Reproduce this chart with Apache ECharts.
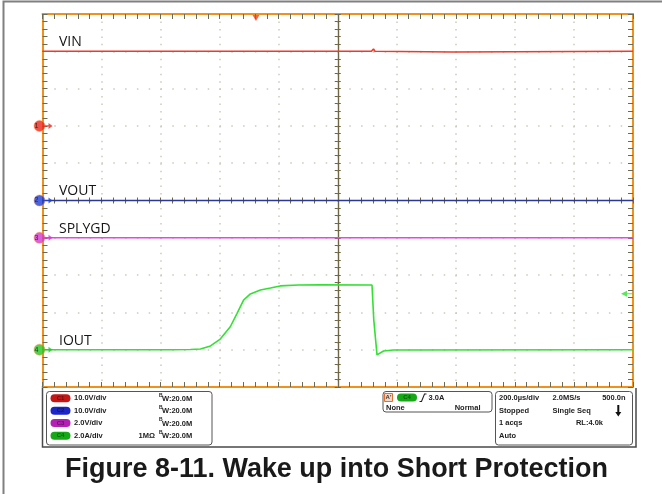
<!DOCTYPE html>
<html>
<head>
<meta charset="utf-8">
<script src="https://cdn.jsdelivr.net/npm/echarts@6/dist/echarts.min.js"></script>
<style>
  html, body { margin: 0; padding: 0; background: #fff; }
  #c { width: 662px; height: 494px; }
</style>
</head>
<body>
<div id="c"></div>
<script>
// Horizontal: µs from screen centre, 200 µs/div, 10 divisions
const timeMin = -1000, timeMax = 1000, timeDiv = 200;
// Vertical: divisions from screen centre
const divMin = -5, divMax = 5;

const channelNames = ['VIN', 'VOUT', 'SPLYGD', 'IOUT'];
const channelNumbers = ['1', '2', '3', '4'];
const channelColors = ['#ee3a2a', '#2b3a8f', '#e845e8', '#33e033'];
const markerColors = ['#e8261c', '#1d3fd6', '#cf3acf', '#22c822'];
const channelScales = [10, 10, 2, 2];     // V/div, V/div, V/div, A/div
const channelOffsets = [2, 0, -1, -4];    // ground level, in divisions

// CH1 VIN (V)
const vinTime  = [-1000, 114, 118, 121, 126, 131, 390, 394, 1000];
const vinVolts = [20.0, 20.0, 20.3, 20.6, 20.0, 19.8, 19.8, 20.0, 20.0];
// CH2 VOUT (V)
const voutTime  = [-1000, 1000];
const voutVolts = [0, 0];
// CH3 SPLYGD (V)
const splygdTime  = [-1000, 1000];
const splygdVolts = [0, 0];
// CH4 IOUT (A)
const ioutTime = [-1000, -567, -499, -465, -431, -398, -364, -341, -319, -296, -262, -228, -195, -134, -59, 116, 122, 133, 155, 188, 1000];
const ioutAmps = [0, 0, 0.01, 0.04, 0.2, 0.57, 1.23, 1.95, 2.66, 2.99, 3.2, 3.31, 3.42, 3.47, 3.48, 3.47, 1.6, -0.28, -0.07, -0.02, 0];

const triggerTime = -277;   // µs
const triggerLevel = 3.0;   // A, on CH4

// Readout panel
const scaleLabels = ['10.0V/div', '10.0V/div', '2.0V/div', '2.0A/div'];
const bwLabel = 'W:20.0M';
const termLabels = ['', '', '', '1MΩ'];
const badgeColors = ['#c51616', '#1c25c6', '#b320b3', '#16a816'];
const badgeText = ['C1', 'C2', 'C3', 'C4'];
const trigText = ['3.0A', 'None', 'Normal'];
const acqRows = [
  ['200.0µs/div', '2.0MS/s', '500.0n'],
  ['Stopped', 'Single Seq', ''],
  ['1 acqs', '', 'RL:4.0k'],
  ['Auto', '', '']
];
const titleText = 'Figure 8-11. Wake up into Short Protection';

const ORANGE = '#f2901c';
const TICK = '#6b6b55';
const CENTRE = '#6e6446';
const GRIDDOT = '#cacabc';

function toDiv(times, vals, ch) {
  return times.map((t, i) => [t, channelOffsets[ch] + vals[i] / channelScales[ch]]);
}

function borderAxis(extra) {
  return Object.assign({
    type: 'value',
    axisLine: { show: true, onZero: false, lineStyle: { color: ORANGE, width: 2 } },
    axisTick: { show: true, inside: true, length: 5, lineStyle: { color: TICK, width: 1 } },
    minorTick: { show: true, splitNumber: 5, length: 5, lineStyle: { color: TICK, width: 1 } },
    axisLabel: { show: false },
    splitLine: { show: false }
  }, extra);
}
function centreAxis(extra, inside) {
  return Object.assign({
    type: 'value',
    axisLine: { show: true, onZero: true, onZeroAxisIndex: 0, lineStyle: { color: CENTRE, width: 1.2 } },
    axisTick: { show: true, inside: inside, length: 3, lineStyle: { color: CENTRE, width: 1 } },
    minorTick: { show: true, splitNumber: 5, length: 3, lineStyle: { color: CENTRE, width: 1 } },
    axisLabel: { show: false },
    splitLine: { show: false }
  }, extra);
}

const xCommon = { min: timeMin, max: timeMax, interval: timeDiv };
const yCommon = { min: divMin, max: divMax, interval: 1 };

const traces = [
  toDiv(vinTime, vinVolts, 0),
  toDiv(voutTime, voutVolts, 1),
  toDiv(splygdTime, splygdVolts, 2),
  toDiv(ioutTime, ioutAmps, 3)
];

const series = traces.map((d, i) => ({
  type: 'line',
  name: channelNames[i],
  data: d,
  showSymbol: false,
  symbol: 'none',
  lineStyle: { color: channelColors[i], width: 1.6 },
  z: 5 + (i === 1 ? 0 : 1),
  animation: false
}));

// Ground-level markers at the left edge
series.push({
  type: 'scatter',
  clip: false,
  symbol: 'circle',
  symbolSize: 11,
  symbolOffset: [-3, 0],
  data: channelOffsets.map((o, i) => ({
    value: [timeMin, o],
    itemStyle: { color: markerColors[i], borderColor: 'rgba(255,140,60,0.6)', borderWidth: 1 },
    label: { show: true, formatter: channelNumbers[i], position: 'inside', offset: [-3, 0],
      fontSize: 7, color: '#111', fontFamily: 'Liberation Sans' }
  })),
  z: 10,
  animation: false
});
series.push({
  type: 'scatter',
  clip: false,
  symbol: 'path://M0,4 L6,4 L6,0 L12,5 L6,10 L6,6 L0,6 Z',
  symbolSize: [8, 6],
  symbolOffset: [6, 0],
  data: channelOffsets.map((o, i) => ({ value: [timeMin, o], itemStyle: { color: markerColors[i] } })),
  z: 10,
  animation: false
});
// Trigger position (top) and trigger level (right)
series.push({
  type: 'scatter',
  clip: false,
  symbol: 'triangle',
  symbolRotate: 180,
  symbolSize: [7, 6],
  symbolOffset: [0, 4],
  data: [[triggerTime, divMax]],
  itemStyle: { color: '#f0401a' },
  z: 10,
  animation: false
});
series.push({
  type: 'scatter',
  clip: false,
  symbol: 'path://M12,4 L6,4 L6,0 L0,5 L6,10 L6,6 L12,6 Z',
  symbolSize: [12, 6],
  symbolOffset: [-6, 0],
  data: [[timeMax, channelOffsets[3] + triggerLevel / channelScales[3]]],
  itemStyle: { color: '#33e033' },
  z: 10,
  animation: false
});

const option = {
  animation: false,
  backgroundColor: '#fff',
  grid: { left: 42.5, top: 14, width: 590.5, height: 373, containLabel: false },
  xAxis: [
    borderAxis(Object.assign({ position: 'bottom',
      splitLine: { show: true, lineStyle: { color: GRIDDOT, width: 1.5, type: [1.5, 5.96] } } }, xCommon)),
    borderAxis(Object.assign({ position: 'top' }, xCommon)),
    centreAxis(Object.assign({ position: 'bottom' }, xCommon), false),
    centreAxis(Object.assign({ position: 'bottom' }, xCommon), true)
  ],
  yAxis: [
    borderAxis(Object.assign({ position: 'left',
      splitLine: { show: true, lineStyle: { color: GRIDDOT, width: 1.5, type: [1.5, 10.3] } } }, yCommon)),
    borderAxis(Object.assign({ position: 'right' }, yCommon)),
    centreAxis(Object.assign({ position: 'left' }, yCommon), false),
    centreAxis(Object.assign({ position: 'left' }, yCommon), true)
  ],
  series: series
};

const chart = echarts.init(document.getElementById('c'), null, { renderer: 'canvas' });
chart.setOption(option);

// Readout panel, caption and trace labels
const g = [];
const F = 'bold 7.5px "Liberation Sans", Arial, sans-serif';
function txt(x, y, s, opt) {
  g.push(Object.assign({ type: 'text', x: x, y: y, z: 20,
    style: Object.assign({ text: s, font: F, fill: '#222', align: 'left', verticalAlign: 'middle' }, opt || {}) }));
}
function rect(x, y, w, h, r, style) {
  g.push({ type: 'rect', z: 19, shape: { x: x, y: y, width: w, height: h, r: r }, style: style });
}

// outer frame of the figure
rect(3.5, 1.5, 700, 600, 0, { fill: 'none', stroke: '#808080', lineWidth: 2 });
// panel frame below the screen
g.push({ type: 'polyline', z: 19, shape: { points: [[42.5, 388], [42.5, 447], [636, 447], [636, 388]] },
  style: { stroke: '#4a4a4a', lineWidth: 1.5, fill: 'none' } });

// channel readout box
rect(46.5, 391.5, 165.5, 53.5, 3, { fill: 'none', stroke: '#555', lineWidth: 1 });
const rowY = [398.3, 410.7, 423, 435.7];
for (let i = 0; i < 4; i++) {
  const y = rowY[i];
  rect(50.5, y - 4, 20, 8, 4, { fill: badgeColors[i], stroke: 'none' });
  txt(60.5, y, badgeText[i], { font: 'bold 6px "Liberation Sans", sans-serif', fill: 'rgba(0,0,0,0.45)', align: 'center' });
  txt(74, y, scaleLabels[i]);
  txt(159, y - 3, 'B', { font: 'bold 5px "Liberation Sans", sans-serif' });
  txt(162, y + 0.5, bwLabel);
  if (termLabels[i]) txt(155, y, termLabels[i], { align: 'right' });
}

// trigger readout box
rect(383, 391.5, 109, 20.5, 3, { fill: 'none', stroke: '#555', lineWidth: 1 });
rect(384.5, 393.5, 8, 8, 0, { fill: '#f4d8c8', stroke: '#e07030', lineWidth: 1 });
txt(388.5, 397.5, "A'", { font: 'bold 6px "Liberation Sans", sans-serif', align: 'center', fill: '#333' });
rect(397, 393.5, 20, 8, 4, { fill: badgeColors[3], stroke: 'none' });
txt(407, 397.5, badgeText[3], { font: 'bold 6px "Liberation Sans", sans-serif', fill: 'rgba(0,0,0,0.45)', align: 'center' });
g.push({ type: 'polyline', z: 20, shape: { points: [[419.5, 401.5], [421.5, 401.5], [424.5, 394], [426.5, 394]] },
  style: { stroke: '#222', lineWidth: 1.1, fill: 'none' } });
txt(428.5, 397.5, trigText[0]);
txt(386, 408, trigText[1]);
txt(480.5, 408, trigText[2], { align: 'right' });

// acquisition readout box
rect(495.5, 391.5, 137, 53.5, 3, { fill: 'none', stroke: '#555', lineWidth: 1 });
const acqX = [499, 552.5, 625.5];
for (let r = 0; r < acqRows.length; r++) {
  const y = rowY[r];
  if (acqRows[r][0]) txt(acqX[0], y, acqRows[r][0]);
  if (acqRows[r][1]) txt(acqX[1], y, acqRows[r][1]);
  if (acqRows[r][2]) txt(r === 2 ? 603 : acqX[2], y, acqRows[r][2], { align: 'right' });
}
// run-state arrow
g.push({ type: 'polygon', z: 20,
  shape: { points: [[617.3, 405], [619.3, 405], [619.3, 412], [621.3, 412], [618.3, 416.5], [615.3, 412], [617.3, 412]] },
  style: { fill: '#111' } });

// caption
g.push({ type: 'text', x: 336.5, y: 469.5, scaleX: 0.963, z: 20,
  style: { text: titleText, font: 'bold 28px "Liberation Sans", Arial, sans-serif', fill: '#1a1a1a',
    align: 'center', verticalAlign: 'middle' } });

// trace names next to each ground level
for (let i = 0; i < 4; i++) {
  const p = chart.convertToPixel({ xAxisIndex: 0, yAxisIndex: 0 }, traces[i][0]);
  g.push({ type: 'text', x: p[0] + 16.5, y: p[1] - 9, z: 20,
    style: { text: channelNames[i], font: '14px "Open Sans", sans-serif', fill: '#151515',
      align: 'left', verticalAlign: 'middle' } });
}

chart.setOption({ graphic: g });
</script>
</body>
</html>
